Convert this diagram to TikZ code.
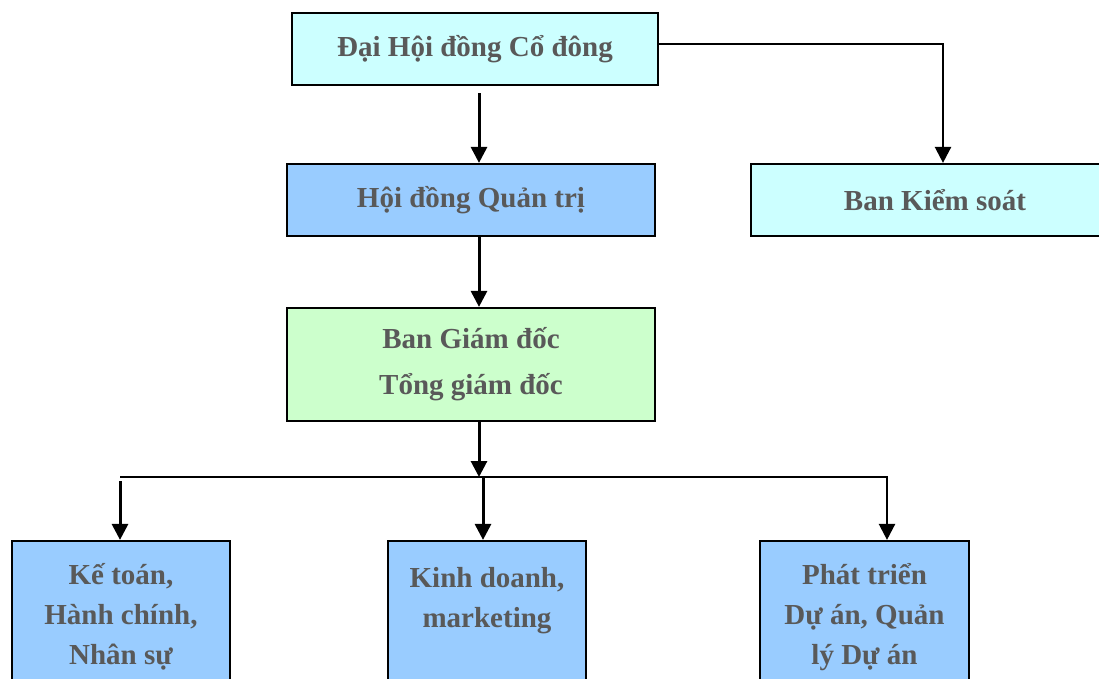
\documentclass[tikz,border=0pt]{standalone}
\usepackage{fontspec}
\setmainfont{Liberation Serif}
\usetikzlibrary{arrows.meta,positioning}
\definecolor{paleCyan}{HTML}{CCFFFF}
\definecolor{skyBlue}{HTML}{99CCFF}
\definecolor{paleGreen}{HTML}{CCFFCC}
\definecolor{textGray}{HTML}{595959}
\begin{document}
\begin{tikzpicture}[x=1pt,y=-1pt,
  box/.style={draw=black,line width=2.2pt,align=center,inner sep=0pt,text=textGray,font=\fontsize{29}{40}\selectfont\bfseries},
  arr/.style={line width=3pt,-{Triangle[width=16pt,length=16pt]}}]
	\useasboundingbox (0,0) rectangle (1099,678);
	\clip (0,0) rectangle (1099,678);
	\node[box,fill=paleCyan,minimum width=366pt,minimum height=72pt] (dhdcd) at (475,49) {Đại Hội đồng Cổ đông};
	\node[box,fill=skyBlue,minimum width=368pt,minimum height=72pt] (hdqt) at (471,200) {Hội đồng Quản trị};
	\node[box,fill=paleCyan,minimum width=368pt,minimum height=72pt] (bks) at (935,200) {Ban Kiểm soát};
	\node[box,fill=paleGreen,minimum width=368pt,minimum height=113pt,font=\fontsize{29}{46}\selectfont\bfseries] (bgd) at (471,364.5) {\raisebox{-3pt}{Ban Giám đốc}\\\raisebox{-3pt}{Tổng giám đốc}};
	\node[box,fill=skyBlue,minimum width=218pt,minimum height=152pt] (kt) at (121,617) {Kế toán,\\Hành chính,\\Nhân sự};
	\node[box,fill=skyBlue,minimum width=198pt,minimum height=152pt] (kd) at (487,617) {Kinh doanh,\\marketing\\\mbox{}};
	\node[box,fill=skyBlue,minimum width=209pt,minimum height=152pt] (pt) at (864.5,617) {Phát triển\\Dự án, Quản\\lý Dự án};
	% connectors
	\coordinate (spine) at (479,0);
	\coordinate (bus) at (479,477);
	\coordinate (busL) at (120,477);
	\coordinate (busM) at (483,477);
	\coordinate (busR) at (887,477);
	\draw[arr] ([yshift=-7pt]dhdcd.south -| spine) -- (hdqt.north -| spine);
	\draw[arr,line width=2.4pt] ([yshift=5pt]dhdcd.east) -| ([xshift=8pt]bks.north);
	\draw[arr] (hdqt.south -| spine) -- (bgd.north -| spine);
	\draw[arr] (bgd.south -| spine) -- (bus);
	\draw[arr,line width=2.4pt] (busL) -- (busR) -- (pt.north -| busR);
	\draw[arr] ([yshift=-4pt]busL) -- (kt.north -| busL);
	\draw[arr] (busM) -- (kd.north -| busM);
\end{tikzpicture}
\end{document}
